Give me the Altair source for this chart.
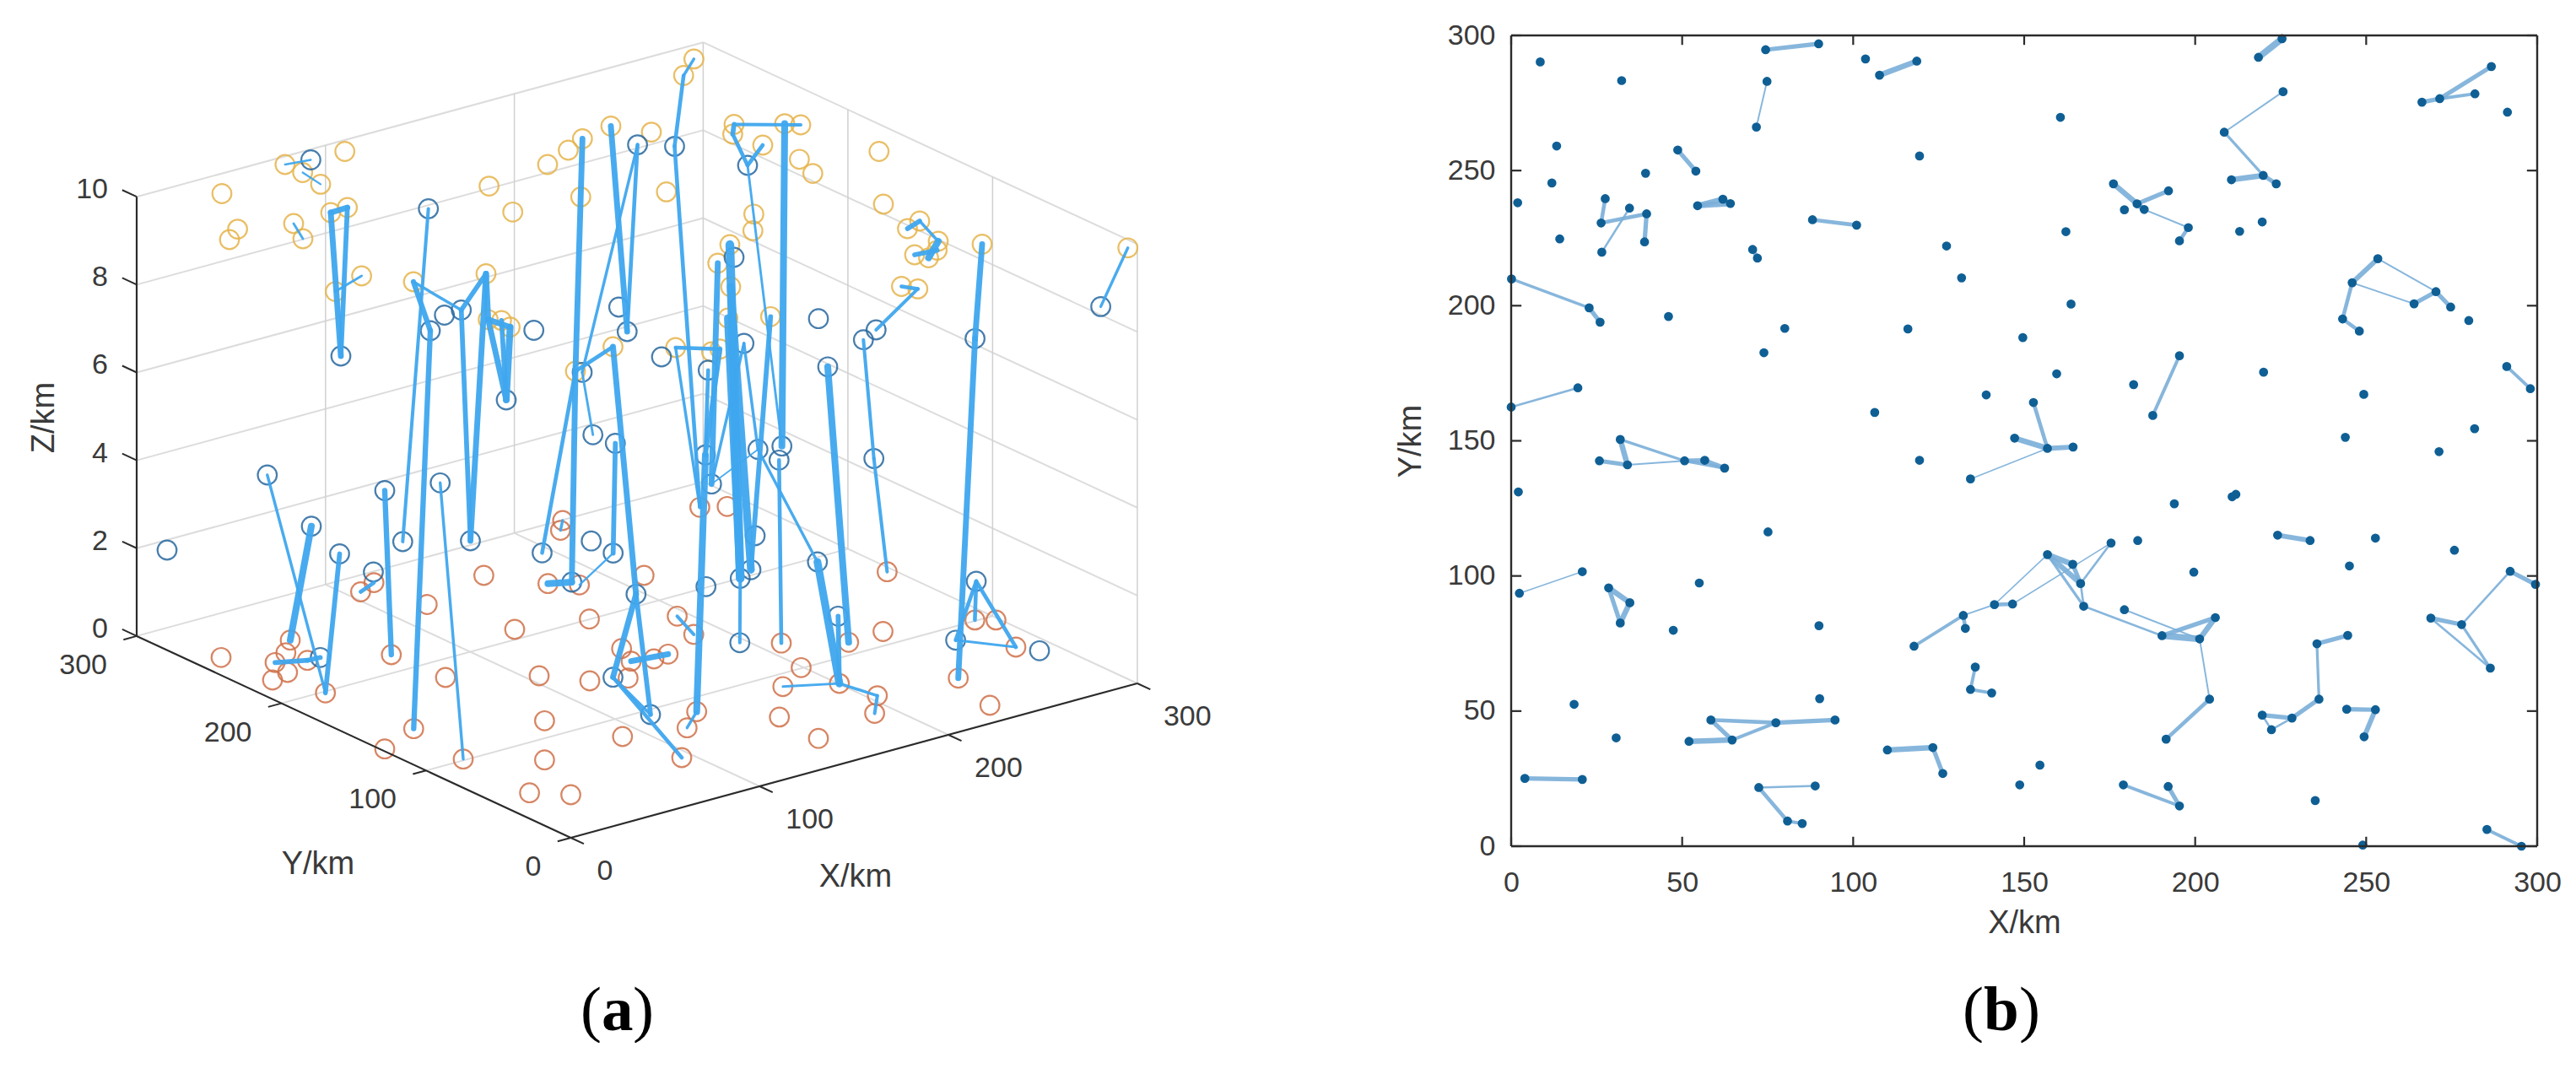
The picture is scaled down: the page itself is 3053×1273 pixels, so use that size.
import altair as alt
import pandas as pd

FONT = "Liberation Sans"
TXT = "#3a3a3a"

# ---------- panel (a): circles as read on the picture plane of the 3-D view ----------
yellow_u = [263,281.6,272,337.8,358.7,380,408.7,348,359,392,411.7,428.6,397.4,490,576,579.6,607.7,578.6,594.4,604.6,649,673.5,690.3,724,688.3,772,789.8,682,726.5,822.4,810.2,870,868.4,930,949,904,947.4,963.3,1041.8,1047,1090,1075.5,1112,1084,1100.5,1110.7,1164,1336.7,1068.4,1087.8,893.4,892.3,865,850.7,866,862.7,913.3,800.7,843.3,853.3]
yellow_v = [227.5,269.6,282,193,202.5,216.4,177.5,263,281,250,244,325,343.6,332,322.5,218.6,249.3,376.8,377.9,385.7,193,176,162.5,147.5,231.4,154.6,225.4,438,409,67.9,87.5,145.4,157,144.6,146,170,186.8,203.6,177.5,240,260,269,284,300,303.6,294.6,287.5,291.8,337.5,340.4,251.8,271.4,288,310,338,375,373.3,410,415,411.7]

blue_u = [368.4,507.7,404,510,526.7,546.7,600,632.7,690,702.7,733.3,743.3,729.3,755.6,784,799.5,886,839.3,870,881.7,970,981,1038.3,1023.3,1155.6,1304.6,1035.7,836,898.3,926.7,923.3,316.8,198,369,456,521.7,402.5,477.3,557.5,442.5,642.5,700.7,726.7,677.7,843.3,836.7,877.3,890,753.8,876.8,726.5,771,379.6,968.8,993.3,1132.6,1157,1232,895]
blue_v = [187.5,245.4,420,390,371.5,365.5,472,389.5,439.3,513.3,362,391,523.5,169.6,421,171.4,194,436.7,303,405,375.7,432.8,389,400.7,399.3,361.4,541.5,537.2,530.7,526.7,543.3,561,650,621.7,579.5,570.3,654.5,640,639,676,653.3,639.2,653.6,688,571.7,693.3,683.5,673.3,702.3,759.8,800.7,845,777.3,664,728.3,756.8,687,769.3,633]

orange_u = [262,344,338.8,326,323,340.8,364.3,385.7,463.8,427.4,443.2,506.3,573.4,528,490.3,456,549,610,649.4,686.7,666.8,664.3,763.3,698.5,639,699,645.4,645.4,627.6,676.5,737.8,808,814.3,825.7,736.7,748,775,791.8,744.4,802.6,822.2,829.4,861.8,1051.4,1005.8,1046.5,926,949.5,927.8,994.8,1039.8,1036.6,923.7,970,1155.4,1180.4,1204,1135.7,1173.2]
orange_v = [777.3,756.7,771.7,783.3,804,795,780.7,819.3,774,699.5,688.6,714.5,680,801,861.7,885.7,897.7,744,689.7,691.3,615,626.6,680,731.7,799,805,852.3,898.7,937.7,940,871,896,860.7,841.5,766.7,781.7,779,773.3,801.7,728.3,750,599.3,598.3,675.7,759.3,746.5,760.2,789.3,811.8,808.1,822.6,843.6,847.9,873.2,732.9,732.9,765,801.8,834]

# ---------- panel (a): link lines (u1, v1, u2, v2, width) ----------
links_a = [
 (392,250,411.7,244,6),(392,250,404,420,6),(411.7,244,404,420,5),(397.4,343.6,428.6,325,2.5),
 (337.8,193,368.4,187.5,2),(358.7,202.5,380,216.4,2),(348,263,359,281,2.5),
 (507.7,245.4,477.3,640,3.5),(490,332,510,390,5.5),(490,332,546.7,365.5,3),(576,322.5,546.7,365.5,5),
 (510,390,490.3,861.7,5.5),(546.7,365.5,557.5,639,5),(576,322.5,557.5,639,6),(576,322.5,578.6,376.8,6),
 (578.6,376.8,604.6,385.7,6),(578.6,376.8,600,472,6),(604.6,385.7,600,472,7),(594.4,377.9,600,472,5),
 (456,579.5,463.8,774,5.5),(521.7,570.3,549,897.7,3),(316.8,561,385.7,819.3,3),(369,621.7,344,756.7,7),
 (402.5,654.5,385.7,819.3,5),(326,783.3,364.3,780.7,5),(364.3,780.7,379.6,777.3,5),(443.2,688.6,427.4,699.5,4),
 (690.3,162.5,682,438,6),(682,438,677.7,688,6),(755.6,169.6,690,439.3,3),(690,439.3,702.7,513.3,2.5),
 (682,438,642.5,653.3,4),(682,438,726.5,409,4),(726.5,409,753.8,702.3,6),(729.3,523.5,726.7,653.6,5),
 (724,147.5,743.3,391,6),(755.6,169.6,743.3,391,4),(726.7,653.6,686.7,691.3,2),(649.4,689.7,677.7,688,7),
 (664.3,626.6,666.8,615,3),(753.8,702.3,726.5,800.7,6),(753.8,702.3,771,845,5),(726.5,800.7,808,896,4),
 (726.5,800.7,771,845,3),(748,781.7,791.8,773.3,6),(802.6,728.3,822.2,750,3.5),
 (850.7,310,843.3,571.7,6),(836,537.2,825.7,841.5,7),(825.7,841.5,814.3,860.7,3),
 (799.5,171.4,829.4,599.3,4),(810.2,87.5,822.4,67.9,3),(810.2,87.5,799.5,171.4,4),
 (800.7,410,853.3,411.7,4),(800.7,410,829.4,599.3,3),
 (865,288,877.3,683.5,9),(866,338,890,673.3,8),(862.7,375,877.3,683.5,8),(877.3,683.5,876.8,759.8,3.5),
 (913.3,373.3,890,673.3,5),(886,194,926.7,526.7,2.5),(881.7,405,843.3,571.7,3),(881.7,405,898.3,530.7,3),
 (839.3,436.7,836,537.2,4),(853.3,411.7,836,537.2,5),(930,144.6,926.7,526.7,7),(870,145.4,949,146,3.5),
 (868.4,157,886,194,4),(870,145.4,868.4,157,5),(886,194,904,170,4),(923.3,543.3,926,760.2,4),
 (898.3,530.7,843.3,571.7,1.5),(898.3,530.7,968.8,664,3),(968.8,664,994.8,808.1,8),(993.3,728.3,994.8,808.1,5),
 (981,432.8,1005.8,759.3,7),(1023.3,400.7,1035.7,541.5,3.5),(1035.7,541.5,1051.4,675.7,3.5),
 (1038.3,389,1087.8,340.4,3.5),(1068.4,337.5,1087.8,340.4,4),(1090,260,1075.5,269,5),(1090,260,1112,284,3),
 (1112,284,1100.5,303.6,7),(1110.7,294.6,1084,300,5),(1164,287.5,1155.6,399.3,6),(1155.6,399.3,1135.7,801.8,6),
 (1336.7,291.8,1304.6,361.4,3),(1157,687,1155.4,732.9,4),(1157,687,1204,765,4),(1157,687,1132.6,756.8,4),
 (1132.6,756.8,1204,765,2.5),(927.8,811.8,994.8,808.1,2.5),(994.8,808.1,1039.8,822.6,3),(1039.8,822.6,1036.6,843.6,3.5),
]

# projection of the 3-D box (km -> picture plane)
def proj(x, y, z):
    return (676.5 + 2.238 * x - 1.715 * y, 991 - 0.61 * x - 0.797 * y - 52.07 * z)

def seg3(a, b, w, c):
    u1, v1 = proj(*a); u2, v2 = proj(*b)
    return dict(u=u1, v=v1, u2=u2, v2=v2, w=w, c=c)

GRID = "#dcdcdc"
AX = "#2b2b2b"
grid_rows = []
for z in [0, 2, 4, 6, 8, 10]:
    grid_rows.append(seg3((0, 300, z), (300, 300, z), 2, GRID))
    grid_rows.append(seg3((300, 300, z), (300, 0, z), 2, GRID))
for t in [100, 200]:
    grid_rows.append(seg3((t, 0, 0), (t, 300, 0), 2, GRID))
    grid_rows.append(seg3((0, t, 0), (300, t, 0), 2, GRID))
    grid_rows.append(seg3((t, 300, 0), (t, 300, 10), 1.5, "#d0d0d0"))
    grid_rows.append(seg3((300, t, 0), (300, t, 10), 1.5, "#d0d0d0"))
grid_rows.append(seg3((300, 300, 0), (300, 300, 10), 1.5, "#d0d0d0"))
grid_rows.append(seg3((300, 0, 0), (300, 0, 10), 1.5, "#d0d0d0"))

axis_rows = [seg3((0, 0, 0), (300, 0, 0), 2.2, AX), seg3((0, 0, 0), (0, 300, 0), 2.2, AX),
             seg3((0, 300, 0), (0, 300, 10), 2.2, AX)]
for t in [0, 100, 200, 300]:
    axis_rows.append(seg3((t, 0, 0), (t, -9, 0), 2, AX))
    axis_rows.append(seg3((0, t, 0), (-7, t, 0), 2, AX))
for z in [0, 2, 4, 6, 8, 10]:
    axis_rows.append(seg3((0, 300, z), (0, 310, z), 2, AX))

z_ticks = [0, 2, 4, 6, 8, 10]
xy_ticks = [0, 100, 200, 300]
lab_r = [dict(u=162 - 34, v=proj(0, 300, z)[1] - 8, t=str(z)) for z in z_ticks]
lab_r += [dict(u=proj(0, t, 0)[0] - 35, v=proj(0, t, 0)[1] + 35, t=str(t)) for t in xy_ticks]
lab_l = [dict(u=proj(t, 0, 0)[0] + 31, v=proj(t, 0, 0)[1] + 40, t=str(t)) for t in xy_ticks]

U = alt.Scale(domain=[8, 1790.7], nice=False, zero=False)
V = alt.Scale(domain=[1001, 40], nice=False, zero=False)
ux = alt.X("u:Q", scale=U, axis=None)
vy = alt.Y("v:Q", scale=V, axis=None)

def rules(rows):
    return alt.Chart(pd.DataFrame(rows)).mark_rule(strokeCap="butt").encode(
        x=ux, y=vy, x2="u2:Q", y2="v2:Q",
        strokeWidth=alt.StrokeWidth("w:Q", scale=None),
        color=alt.Color("c:N", scale=None))

def circles(us, vs, col):
    return alt.Chart(pd.DataFrame({"u": us, "v": vs})).mark_point(
        shape="circle", filled=False, size=510, strokeWidth=2.2, color=col, opacity=0.85).encode(x=ux, y=vy)

link_a_df = pd.DataFrame(links_a, columns=["u", "v", "u2", "v2", "w"])
link_a_df["w"] = link_a_df["w"] * 1.15
lines_a = alt.Chart(link_a_df).mark_rule(color="#3fa7ee", strokeCap="round", opacity=0.95).encode(
    x=ux, y=vy, x2="u2:Q", y2="v2:Q", strokeWidth=alt.StrokeWidth("w:Q", scale=None))

def text(rows, align, size=34, **kw):
    return alt.Chart(pd.DataFrame(rows)).mark_text(
        align=align, baseline="middle", font=FONT, fontSize=size, color=TXT, **kw
    ).encode(x=ux, y=vy, text="t:N")

ax_titles = [dict(u=377, v=1023, t="Y/km"), dict(u=1014, v=1038, t="X/km")]
cap_plain = [dict(u=688, v=1219, t="("), dict(u=750, v=1219, t=")"),
             dict(u=2326, v=1219, t="("), dict(u=2393, v=1219, t=")")]
cap_bold = [dict(u=713, v=1219, t="a"), dict(u=2351, v=1219, t="b")]

def caption(rows, weight):
    return alt.Chart(pd.DataFrame(rows)).mark_text(
        align="left", baseline="alphabetic", font="Liberation Serif", fontSize=75,
        fontWeight=weight, color="#000000"
    ).encode(x=ux, y=vy, text="t:N")

panel_a = alt.layer(
    rules(grid_rows),
    circles(orange_u, orange_v, "#d0714a"),
    circles(yellow_u, yellow_v, "#e6b44c"),
    circles(blue_u, blue_v, "#27689f"),
    lines_a,
    rules(axis_rows),
    text(lab_r, "right"),
    text(lab_l, "left"),
    text(ax_titles, "center", 38),
    text([dict(u=53, v=493, t="Z/km")], "center", 38, angle=270),
    caption(cap_plain, "normal"),
    caption(cap_bold, "bold"),
).properties(width=1782.7, height=961)

# ---------- panel (b): positions in km ----------
# links: x1, y1, x2, y2, width
links_b = [
 (74.4,294.7,89.9,296.9,4),(74.8,283,71.7,266.1,1.5),(107.7,285.3,118.6,290.5,5),(48.7,257.6,54,249.8,4),
 (27.5,239.6,26.3,230.6,3.5),(26.3,230.6,39.6,234,3.5),(34.6,236.1,26.5,219.8,2),(39.6,234,39,223.6,4),
 (54.5,237,61.9,239.4,5),(54.5,237,64.1,237.8,5),(61.9,239.4,64.1,237.8,4),(88.1,231.8,101,229.8,3.5),
 (70.6,220.8,72,217.6,4),(0.1,209.9,22.8,199.2,2.5),(22.8,199.2,26,193.9,4),(19.5,169.6,0,162.5,2),
 (225.4,298.8,218.5,291.9,6),(286.6,288.5,271.5,276.6,4),(271.5,276.6,266.3,275.3,4),(271.5,276.6,281.8,278.4,3),
 (225.7,279.2,208.5,264.2,1.5),(208.5,264.2,219.9,248.2,2.5),(210.6,246.6,219.9,248.2,5),(219.9,248.2,223.7,245.1,4),
 (176.1,245.1,183,237.7,5),(183,237.7,192.2,242.5,4),(183,237.7,185.1,235.6,5),(185.1,235.6,198,228.9,1.5),
 (198,228.9,195.4,224,3.5),(253.4,217.4,245.9,208.5,4.5),(253.4,217.4,270.4,205.2,1.5),(245.9,208.5,264,200.7,1.5),
 (264,200.7,270.4,205.2,4),(270.4,205.2,274.7,199.5,4),(245.9,208.5,243.1,195.1,3.5),(243.1,195.1,248,190.6,3.5),
 (195.4,181.5,187.6,159.4,3),(291.1,177.5,298,169.3,3),(152.7,164.2,156.8,147.2,3.5),
 (31.9,150.5,34,141.1,5),(31.9,150.5,50.7,142.6,2.5),(25.8,142.6,34,141.1,4),(34,141.1,50.7,142.6,1.5),
 (50.7,142.6,56.6,142.8,4),(56.6,142.8,62.4,139.9,4),(50.7,142.6,62.4,139.9,3),(134.3,135.9,156.8,147.2,1.2),
 (20.8,101.6,2.4,93.6,1.2),(28.5,95.6,34.7,90.1,5),(34.7,90.1,31.9,82.6,5),(31.9,82.6,28.5,95.6,4),
 (117.8,74,132.2,85.4,3),(132.2,85.4,132.8,80.6,3.5),(132.2,85.4,141.3,89.4,1.5),(141.3,89.4,146.6,89.6,3.5),
 (135.7,66.3,134.3,58,3),(134.3,58,140.5,56.7,3),(58.4,46.7,77.4,45.7,3.5),(77.4,45.7,94.7,46.7,4),
 (58.4,46.7,64.6,39.3,4),(52,38.8,64.6,39.3,5),(64.6,39.3,77.4,45.7,3),(123.3,36.5,110,35.6,5),
 (123.3,36.5,126.2,26.9,4),(4,25.1,20.8,24.7,4),(88.9,22.3,72.4,21.7,2),(72.4,21.7,80.8,9.3,3.5),(80.8,9.3,85.1,8.4,3),
 (147.2,151,156.8,147.2,5),(164.3,147.7,156.8,147.2,4.5),(224.1,115.1,233.6,113.1,4.5),
 (292.1,101.7,299.5,96.9,4),(292.1,101.7,277.9,82,2),(268.9,84.4,277.9,82,4),(268.9,84.4,286.3,65.9,2),(277.9,82,286.3,65.9,2.5),
 (141.3,89.4,156.8,107.9,1.2),(146.6,89.6,175.4,112.2,1.2),(156.8,107.9,164.2,104.3,5),(156.8,107.9,166.5,97.2,5),
 (164.2,104.3,166.5,97.2,4),(175.4,112.2,166.5,97.2,2),(166.5,97.2,167.4,88.8,2),(156.8,107.9,167.4,88.8,2.5),
 (167.4,88.8,190.3,77.9,2),(179.3,87.5,201.3,76.7,1.5),(190.3,77.9,205.9,84.6,4),(190.3,77.9,201.3,76.7,6),
 (201.3,76.7,205.9,84.6,5),(201.3,76.7,204.2,54.4,1.5),(204.2,54.4,191.5,39.6,3.5),
 (244.6,78,235.6,74.9,4),(235.6,74.9,236.2,54.4,2.5),(236.2,54.4,228.3,47.4,4),(228.3,47.4,219.6,48.5,4),
 (219.6,48.5,222.3,43.1,2),(222.3,43.1,228.3,47.4,2),(244.3,50.7,252.7,50.5,4),(252.7,50.5,249.4,40.5,4.5),
 (179,22.7,195.4,14.9,3),(195.4,14.9,192.1,22.1,4),(285.3,6.2,295.4,0,3),
]
# dots without a link
lone_x = [8.5,32.3,103.6,13.3,119.4,39.3,11.9,1.9,127.3,14.2,131.7,46,80,116,73.9,138.9,106.3,291.3,160.6,179.3,162.2,213,219.6,280,163.7,149.6,159.5,182,220,249.3,281.7,243.9,2.1,119.4,75.1,55,47.4,90,18.4,30.7,90.2,193.9,210.8,211.9,252.7,275.8,183.2,199.6,245.1,154.6,148.7,235.1,249,271.3]
lone_y = [290.2,283.3,291.3,259.1,255.4,249,245.4,238.1,222.1,224.7,210.3,196,191.6,191.4,182.6,167,160.5,271.6,269.7,235.5,227.4,227.5,231,194.5,200.6,188.2,174.8,170.8,175.4,167.2,154.5,151.3,131.1,142.8,116.3,97.4,79.9,81.6,52.5,40.1,54.6,126.7,129.3,130.2,114,109.5,113.1,101.4,103.7,30,22.7,16.9,0.4,146]

link_b_df = pd.DataFrame(links_b, columns=["x", "y", "x2", "y2", "w"])
link_b_df["w"] = link_b_df["w"] * 1.3
ends = {(r[0], r[1]) for r in links_b} | {(r[2], r[3]) for r in links_b}
dots_df = pd.DataFrame(list(zip(lone_x, lone_y)) + sorted(ends), columns=["x", "y"])

XS = alt.Scale(domain=[0, 300], nice=False, zero=False)
YS = alt.Scale(domain=[0, 300], nice=False, zero=False)
tick_vals = [0, 50, 100, 150, 200, 250, 300]
b_x = alt.X("x:Q", scale=XS, title="X/km", axis=alt.Axis(
    values=tick_vals, ticks=False, domain=False, grid=False, labelFontSize=34,
    labelFont=FONT, labelColor=TXT, labelPadding=26, titleFontSize=38, titleFont=FONT, titleColor=TXT,
    titleFontWeight="normal", titlePadding=12, labelFlush=False))
b_y = alt.Y("y:Q", scale=YS, title="Y/km", axis=alt.Axis(
    values=tick_vals, ticks=False, domain=False, grid=False, labelFontSize=34,
    labelFont=FONT, labelColor=TXT, labelPadding=19, titleFontSize=38, titleFont=FONT, titleColor=TXT,
    titleFontWeight="normal", titlePadding=24, labelFlush=False))

tick_rows = []
for t in tick_vals:
    tick_rows += [dict(x=t, y=0, x2=t, y2=3.5), dict(x=t, y=300, x2=t, y2=296.5),
                  dict(x=0, y=t, x2=3, y2=t), dict(x=300, y=t, x2=297, y2=t)]
frame_rows = [dict(x=0, y=0, x2=300, y2=0), dict(x=0, y=300, x2=300, y2=300),
              dict(x=0, y=0, x2=0, y2=300), dict(x=300, y=0, x2=300, y2=300)]

lines_b = alt.Chart(link_b_df).mark_rule(color="#7aaed8", strokeCap="butt", opacity=0.9).encode(
    x=b_x, y=b_y, x2="x2:Q", y2="y2:Q", strokeWidth=alt.StrokeWidth("w:Q", scale=None))
dots = alt.Chart(dots_df).mark_circle(size=115, color="#0f5f95", opacity=1).encode(x=b_x, y=b_y)
ticks_b = alt.Chart(pd.DataFrame(tick_rows)).mark_rule(color="#2b2b2b", strokeWidth=2.2).encode(
    x=b_x, y=b_y, x2="x2:Q", y2="y2:Q")
frame_b = alt.Chart(pd.DataFrame(frame_rows)).mark_rule(color="#2b2b2b", strokeWidth=2.4).encode(
    x=b_x, y=b_y, x2="x2:Q", y2="y2:Q")

panel_b = alt.layer(lines_b, dots, ticks_b, frame_b).properties(width=1216, height=961)

chart = alt.hconcat(panel_a, panel_b, spacing=0, bounds="flush").properties(
    padding={"left": 0, "top": 17, "right": 0, "bottom": 0}, background="white"
).configure_view(stroke=None)

chart.save("out.html", embed_options={"renderer": "svg", "actions": False})
